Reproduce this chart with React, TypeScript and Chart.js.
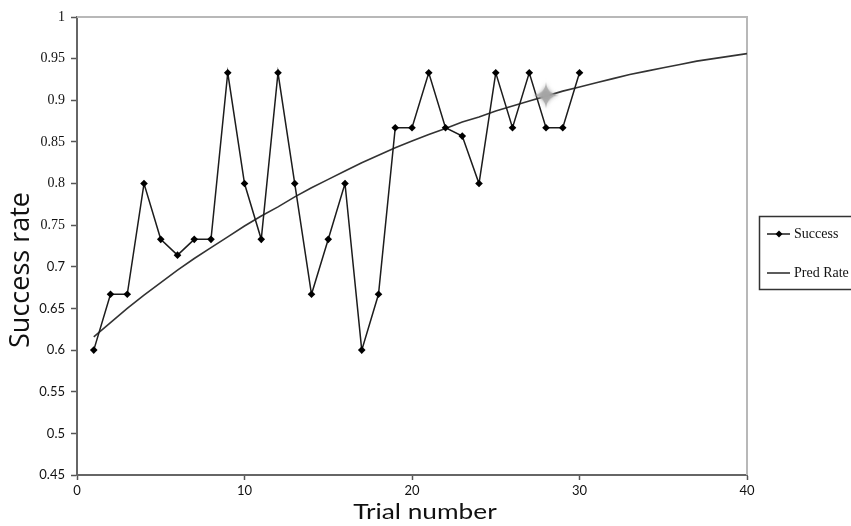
import { useEffect, useRef } from "react";
import { Chart, registerables } from "chart.js";

Chart.register(...registerables);

// ---- data ----
const trials = [
  1, 2, 3, 4, 5, 6, 7, 8, 9, 10, 11, 12, 13, 14, 15, 16, 17, 18, 19, 20, 21, 22, 23, 24, 25, 26, 27, 28, 29, 30,
];
const successRate = [
  0.6, 0.667, 0.667, 0.8, 0.733, 0.714, 0.733, 0.733, 0.933, 0.8, 0.733, 0.933, 0.8, 0.667, 0.733, 0.8, 0.6,
  0.667, 0.867, 0.867, 0.933, 0.867, 0.857, 0.8, 0.933, 0.867, 0.933, 0.867, 0.867, 0.933,
];
const predTrials = [
  1, 2, 3, 4, 5, 6, 7, 8, 9, 10, 11, 12, 13, 14, 15, 16, 17, 18, 19, 20, 21, 22, 23, 24, 25, 26, 27, 28, 29, 30,
  31, 32, 33, 34, 35, 36, 37, 38, 39, 40,
];
const predRate = [
  0.616, 0.633, 0.65, 0.666, 0.681, 0.696, 0.71, 0.723, 0.736, 0.749, 0.761, 0.772, 0.784, 0.795, 0.805, 0.815,
  0.825, 0.834, 0.843, 0.851, 0.859, 0.866, 0.874, 0.88, 0.887, 0.893, 0.899, 0.905, 0.911, 0.916, 0.921, 0.926,
  0.931, 0.935, 0.939, 0.943, 0.947, 0.95, 0.953, 0.956,
];
const highlightTrial = [28];
const highlightRate = [0.906];

const seriesNames = ["Success", "Pred Rate"];
const xTitle = "Trial number";
const yTitle = "Success rate";
const xRange = [0, 40];
const xStep = 10;
const yRange = [0.45, 1];
const yStep = 0.05;

function makeSparkle(): HTMLCanvasElement {
  const c = document.createElement("canvas");
  c.width = 34;
  c.height = 34;
  const g = c.getContext("2d")!;
  g.translate(17, 17);
  g.shadowColor = "rgba(160,160,160,0.9)";
  g.shadowBlur = 4;
  g.fillStyle = "rgba(165,165,165,0.8)";
  g.beginPath();
  const L = 13;
  const w = 2.4;
  g.moveTo(0, -L);
  g.quadraticCurveTo(w * 0.5, -w * 0.5, L, 0);
  g.quadraticCurveTo(w * 0.5, w * 0.5, 0, L);
  g.quadraticCurveTo(-w * 0.5, w * 0.5, -L, 0);
  g.quadraticCurveTo(-w * 0.5, -w * 0.5, 0, -L);
  g.closePath();
  g.fill();
  g.beginPath();
  g.arc(0, 0, 4, 0, Math.PI * 2);
  g.fill();
  return c;
}

const decorPlugin = {
  id: "decor",
  beforeDatasetsDraw(chart: any) {
    const { ctx, chartArea } = chart;
    const { left, top, right, bottom } = chartArea;
    ctx.save();
    ctx.strokeStyle = "#b8b8b8";
    ctx.lineWidth = 2;
    ctx.beginPath();
    ctx.moveTo(left, top);
    ctx.lineTo(right, top);
    ctx.lineTo(right, bottom);
    ctx.stroke();
    ctx.restore();
  },
  afterDraw(chart: any) {
    const { ctx } = chart;
    ctx.save();
    // y title
    ctx.fillStyle = "#111";
    ctx.textAlign = "center";
    ctx.textBaseline = "middle";
    ctx.save();
    ctx.translate(21, 270);
    ctx.rotate(-Math.PI / 2);
    ctx.font = '27px "Open Sans"';
    ctx.fillText(yTitle, 0, 0);
    ctx.restore();
    // x title
    ctx.save();
    ctx.translate(425, 512);
    ctx.scale(1.25, 1);
    ctx.font = "21px Lato";
    ctx.fillText(xTitle, 0, 0);
    ctx.restore();

    // legend
    ctx.strokeStyle = "#333";
    ctx.lineWidth = 1.5;
    ctx.strokeRect(759.5, 216.5, 110, 73);
    const ds = chart.data.datasets;
    const rows = [234, 273];
    seriesNames.forEach((name, i) => {
      const y = rows[i];
      ctx.strokeStyle = ds[i].borderColor;
      ctx.lineWidth = ds[i].borderWidth;
      ctx.beginPath();
      ctx.moveTo(767, y);
      ctx.lineTo(790, y);
      ctx.stroke();
      if (i === 0) {
        ctx.fillStyle = "#000";
        ctx.beginPath();
        ctx.moveTo(779, y - 3.5);
        ctx.lineTo(782.5, y);
        ctx.lineTo(779, y + 3.5);
        ctx.lineTo(775.5, y);
        ctx.closePath();
        ctx.fill();
      }
      ctx.fillStyle = "#111";
      ctx.textAlign = "left";
      ctx.textBaseline = "middle";
      ctx.font = '14px "Liberation Serif"';
      ctx.fillText(name, 794, y);
    });
    ctx.restore();
  },
};

export default function App() {
  const ref = useRef<HTMLCanvasElement>(null);
  useEffect(() => {
    if (!ref.current) return;
    const sparkle = makeSparkle();
    const chart = new Chart(ref.current, {
      type: "line",
      data: {
        datasets: [
          {
            label: seriesNames[0],
            data: trials.map((t, i) => ({ x: t, y: successRate[i] })),
            borderColor: "#1c1c1c",
            borderWidth: 1.5,
            pointStyle: "rectRot",
            pointRadius: 3.8,
            pointBackgroundColor: "#000",
            pointBorderColor: "#000",
            pointBorderWidth: 0,
            tension: 0,
            order: 1,
          },
          {
            label: seriesNames[1],
            data: predTrials.map((t, i) => ({ x: t, y: predRate[i] })),
            borderColor: "#333",
            borderWidth: 1.6,
            pointRadius: 0,
            tension: 0,
            order: 2,
          },
          {
            label: "marker",
            data: highlightTrial.map((t, i) => ({ x: t, y: highlightRate[i] })),
            showLine: false,
            pointStyle: sparkle as any,
            pointRadius: 12,
            order: 0,
          },
        ],
      },
      options: {
        responsive: false,
        animation: false,
        events: [],
        layout: { padding: { top: 17, right: 104, left: 0, bottom: 0 } },
        plugins: { legend: { display: false }, tooltip: { enabled: false } },
        scales: {
          x: {
            type: "linear",
            min: xRange[0],
            max: xRange[1],
            afterFit: (s: any) => {
              s.height = 51;
            },
            ticks: {
              stepSize: xStep,
              color: "#111",
              font: { family: "Lato", size: 13 },
              padding: 3,
              maxRotation: 0,
            },
            grid: { drawOnChartArea: false, tickLength: 5, tickColor: "#555", tickWidth: 1.5 },
            border: { color: "#666", width: 2 },
          },
          y: {
            type: "linear",
            min: yRange[0],
            max: yRange[1],
            afterFit: (s: any) => {
              s.width = 77;
            },
            ticks: {
              stepSize: yStep,
              color: "#111",
              padding: 6,
              callback: (v: any) => String(Number(Number(v).toFixed(2))),
              font: (c: any) =>
                c.tick && c.tick.value >= 0.749
                  ? { family: '"Liberation Serif"', size: 14 }
                  : { family: "Lato", size: 13 },
            },
            grid: { drawOnChartArea: false, tickLength: 6, tickColor: "#555", tickWidth: 1.5 },
            border: { color: "#666", width: 2 },
          },
        },
      },
      plugins: [decorPlugin],
    });
    return () => chart.destroy();
  }, []);
  return (
    <div style={{ position: "fixed", left: 0, top: 0, width: 851, height: 526, background: "#fff" }}>
      <canvas ref={ref} width={851} height={526} style={{ display: "block" }} />
    </div>
  );
}
